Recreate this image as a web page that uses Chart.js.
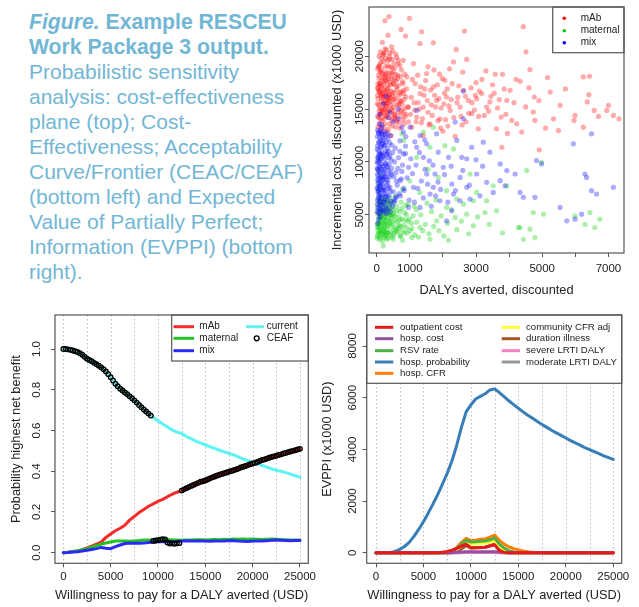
<!DOCTYPE html>
<html>
<head>
<meta charset="utf-8">
<script src="https://cdn.jsdelivr.net/npm/chart.js@4.4.1/dist/chart.umd.min.js"></script>
<style>
html,body{margin:0;padding:0;background:#fff;}
body{width:639px;height:607px;position:relative;overflow:hidden;font-family:"Liberation Sans",Arial,Helvetica,sans-serif;}
.cap{position:absolute;left:29px;top:8.5px;font-size:21px;line-height:25px;color:#72b6d5;white-space:nowrap;}
.cap b{font-size:21.2px;}
.panel{position:absolute;}
.panel canvas{display:block;}
</style>
</head>
<body>
<div class="cap"><b><i>Figure.</i> Example RESCEU<br>Work Package 3 output.</b><br>Probabilistic sensitivity<br>analysis: cost-effectiveness<br>plane (top); Cost-<br>Effectiveness; Acceptability<br>Curve/Frontier (CEAC/CEAF)<br>(bottom left) and Expected<br>Value of Partially Perfect;<br>Information (EVPPI) (bottom<br>right).</div>
<div class="panel" style="left:320px;top:0;"><canvas id="cePlane" width="319" height="300"></canvas></div>
<div class="panel" style="left:0;top:300px;"><canvas id="ceac" width="320" height="307"></canvas></div>
<div class="panel" style="left:320px;top:300px;"><canvas id="evppi" width="319" height="307"></canvas></div>
<script>
// ─── DATA: cost-effectiveness plane (DALYs averted, cost x1000 USD) ───
const mabPts = [
  [370,23740],[250,23360],[990,23580],[735,22530],[1360,22310],[2650,22380],[4430,22790],[4510,20410],[340,21990],[870,21900],
  [1310,21200],[1710,21270],[2400,20640],[2320,19460],[2720,19690],[3300,18610],[3580,18290],[3800,18290],[4210,17820],[4330,17630],
  [4630,18740],[5160,17980],[6240,18040],[6430,18100],[7000,15350],[7320,14080],[7150,14400],[6950,14870],[6570,14870],[6410,16360],
  [6360,15670],[6240,13290],[5990,14400],[5960,13930],[5540,15350],[5340,14080],[5490,12970],[5240,16610],[4910,11140],[4780,13930],
  [4760,16140],[4730,14720],[4380,12820],[4230,13610],[4080,13930],[4030,16770],[3930,15820],[3760,14240],[3620,13130],[3780,11390],
  [3420,15670],[3320,15190],[3170,16460],[3020,15980],[3070,13130],[2870,14560],[2770,15820],[2620,16770],[2520,15190],[2370,12410],
  [2220,14870],[2110,16140],[2060,17720],[1910,14080],[1810,15820],[1710,17090],[1610,13610],[1510,18360],[1410,15190],[1310,16460],
  [1210,14240],[1160,17410],[1110,19300],[1060,13290],[960,15190],[910,18040],[810,16770],[710,15820],[650,19620],[550,14400],
  [500,17410],[450,20890],[400,18990],[300,15510],[250,18040],[200,20260],[150,16460],[120,14560],[100,17410],[80,18990],
  [1250,15600],[1450,16900],[1550,14700],[1650,15400],[1750,16300],[1850,13900],[1950,15100],[2050,16500],[2150,13400],[2250,15900],
  [2450,16100],[2550,14300],[2700,13800],[2850,17000],[2950,14900],[3100,16700],[3250,14400],[3450,16200],[3650,15100],[3850,16900],
  [1350,13700],[1050,16100],[1150,14900],[1550,19000],[1900,18300],[2200,18800],[2600,18500],[3000,17500],[3500,17300],[2000,12900],
  [1400,12500],[4500,15200],[4900,15800],[5700,16900],[6700,14300],[5100,13200],[3950,12700],[4600,17000],
  [60,14200],[90,15100],[120,16300],[150,17200],[70,17900],[180,14800],[210,15600],[240,16800],[40,16000],[100,18600],
  [130,19400],[200,20100],[260,19000],[300,17700],[330,16100],[360,14900],[280,14300],[80,13600],[160,13900],[230,14100],
  [390,15800],[420,17300],[450,18400],[480,16600],[510,15200],[540,14500],[570,16000],[600,17100],[630,18200],[660,15500],
  [700,16500],[740,14800],[780,17600],[820,15900],[860,14300],[900,16900],[50,19000],[110,20400],[170,21300],[250,20700],
  [340,19600],[400,20300],[470,19700],[550,18900],[650,19300],[750,18700],[850,18300],[940,15200],[20,15500],[30,17000],
  [140,15700],[190,16100],[270,15300],[310,15800],[370,16400],[440,15000],[500,14100],[620,14000],[680,13700],[720,15700],
  [800,14000],[960,13800],[380,13600],[580,13300],[120,14500],[220,17600],[290,18500],[350,17900],[530,17800],[460,13900],
  [60,16700],[95,17400],[185,18300],[245,15000],[320,14600],[410,16100],[210,13300],[170,12800],[300,12900],[430,12500],
  [30,14300],[75,14800],[115,14050],[165,14650],[215,14950],[265,14400],[320,14750],[375,14200],[430,14600],[490,14850],
  [560,14250],[640,14700],[720,14350],[800,14750],[880,14500],[55,15400],[135,15050],[195,15450],[255,15800],[305,15250],
  [355,15600],[415,15350],[475,15700],[535,15900],[605,15400],[690,15150],[770,15500],[850,15100],[25,16300],[85,16600],
  [145,16100],[205,16900],[260,16400],[315,16800],[365,16050],[425,16700],[485,16200],[545,16500],[610,16850],[675,16300],
  [745,16650],[815,16450],[885,16150],[45,16950],[110,16750],[175,16500],[230,16200],[290,16550],[345,16950],[395,16350],
  [35,17400],[95,17150],[155,17750],[215,17300],[275,17650],[335,17200],[395,17550],[455,17850],[515,17350],[585,17700],
  [655,17250],[725,18100],[795,17400],[60,18200],[125,18450],[190,17950],[250,18300],[310,18100],[370,18400],[440,18150],
  [500,18550],[570,18250],[640,17900],[30,18800],[90,19200],[150,18700],[210,19500],[270,19800],[330,19100],[390,19700],
  [460,18900],[520,19300],[600,19900],[700,19100],[800,19600],[75,20000],[140,19800],[230,20300],[300,20600],[380,20000],
  [480,20500],[580,20200],[40,13300],[130,13200],[240,13600],[350,13100],[470,13400],[590,13800],[710,13200],[830,13600],
  [1020,14500],[1080,17800],[1130,15600],[1190,13800],[1240,18200],[1290,15000],[1330,17100],[1380,14100],[1430,16300],[1480,17700],
  [1530,15800],[1580,13500],[1630,16800],[1680,14400],[1730,18700],[1780,15200],[1830,17300],[1880,16000],[1930,13200],[1980,17900],
  [2030,15500],[2080,14000],[2130,16900],[2180,15300],[2280,17400],[2330,14200],[2430,15600],[2480,17200],[2580,13500],[2680,16200],
  [2780,14600],[2880,15600],[2980,16300],[3080,14300],[3180,17800],[3380,14800],[3550,16500],[3700,15900],[3900,14500],[4150,15600]
];
const maternalPts = [
  [200,2060],[500,2690],[710,3010],[1060,2850],[1610,2690],[2170,2600],[1310,3800],[1810,4430],[2370,4750],[2720,5060],
  [2920,3960],[3270,5220],[3620,5380],[4330,3800],[4430,2690],[4630,3640],[4780,2850],[4730,5220],[5040,5060],[4980,9970],
  [4530,9180],[4280,3800],[5990,4900],[6290,4110],[6590,3800],[6740,4590],[6440,5220],[3930,7750],[3520,7750],[3020,7120],
  [2820,8860],[2920,6330],[2620,6010],[2320,11230],[2060,11550],[1610,11390],[1410,12820],[1710,13290],[760,12660],[810,12030],
  [1210,10440],[1860,8540],[2110,7280],[910,3800],[600,3490],[3320,6330],[2420,6490],[2110,5700],
  [20,3000],[40,3500],[60,4000],[80,4500],[100,5000],[120,5500],[140,6000],[160,3200],[180,3700],[200,4200],
  [220,4700],[240,5200],[260,5700],[280,3100],[300,3600],[320,4100],[340,4600],[360,5100],[380,5600],[400,6100],
  [420,3400],[440,3900],[460,4400],[480,4900],[500,5400],[540,3300],[580,3800],[620,4300],[660,4800],[700,5300],
  [740,6200],[780,3500],[820,4000],[860,4500],[900,5000],[950,6000],[30,5600],[50,6500],[70,7200],[90,2700],
  [110,3300],[130,4700],[170,5400],[190,6600],[210,2900],[250,3800],[270,4400],[290,6200],[310,2700],[350,3300],
  [390,4200],[430,5000],[470,5900],[510,3100],[560,4500],[600,5800],[640,3400],[680,4000],[720,3000],[760,4600],
  [1000,3500],[1050,4200],[1100,4900],[1150,3100],[1200,5500],[35,8000],[65,9200],[45,10300],[95,7600],[150,8700],
  [25,3800],[55,4300],[85,3400],[115,4100],[145,4900],[175,2500],[205,3500],[235,4000],[265,3300],[330,5300],
  [15,2800],[50,3200],[90,2900],[130,3600],[170,3100],[215,3400],[260,2900],[305,3300],[350,2800],[400,3100],
  [460,2900],[520,3600],[20,4100],[60,3800],[100,4300],[145,3900],[190,4500],[235,4300],[280,4800],[330,3900],
  [375,4400],[425,4700],[490,4100],[550,4900],[30,5100],[70,4800],[110,5300],[155,5000],[200,5600],[245,4800],
  [295,5300],[345,5700],[395,5000],[450,5500],[520,5100],[610,5400],[40,6000],[80,6300],[120,6100],[165,6400],
  [215,6000],[270,6500],[330,6200],[400,6600],[480,6300],[570,6800],[650,3700],[700,4500],[760,5600],[840,3300],
  [880,5900],[940,4400],
  [720,3900],[780,2600],[850,5200],[920,3300],[990,4600],[1070,3700],[1130,5800],[1210,4300],[1260,2900],[1330,5000],
  [1390,3500],[1470,4100],[1520,6100],[1580,3200],[1660,5300],[1720,3900],[1790,6400],[1880,3500],[1950,4900],[2030,3000],
  [2140,4200],[2260,5500],[2420,3600],[2560,4400],[2780,3200],[3050,4800],[3400,4100],[3800,3300],[780,7400],[1000,8200],
  [1300,7100],[1550,9300]
];
const mixPts = [
  [2370,13770],[2570,10440],[2720,10290],[2870,11390],[3220,11870],[3420,10920],[3020,8860],[3320,8070],[3730,8230],[3930,9180],
  [3730,9810],[3880,7750],[4180,8860],[4330,7120],[4430,6650],[4830,10130],[4980,9810],[4780,6650],[5540,5700],[5740,4430],
  [5940,11710],[5990,4590],[6290,8860],[6340,8540],[6490,7280],[6490,12660],[6640,6960],[7150,7600],[6190,5060],[3520,7120],
  [3120,6800],[2820,6490],[2520,6330],[2270,5380],[2110,4430],[1910,6330],[1710,7600],[1510,8860],[1410,10440],[1310,12500],
  [1210,11390],[1010,13290],[810,12820],[650,14080],[400,14720],[1210,14870],[2520,8540],[2270,7910],[2010,9490],[1860,10920],
  [1760,8860],[1610,6960],[1110,7600],[960,9490],[810,10760],[710,8230],[550,6330],[960,5700],[1310,5700],[2420,12030],
  [2720,7600],[2170,10440],[2320,6960],[1510,11710],[1810,12660],[2620,16700],[2620,14080],
  [80,14500],[200,15500],[350,14200],[500,13800],[150,13500],[650,15000],[280,16200],
  [20,6000],[40,7200],[60,8400],[80,9600],[100,10800],[120,12000],[30,13000],[50,5200],[70,6600],[90,7800],
  [110,9000],[130,10200],[150,11400],[170,12600],[190,6200],[210,7400],[230,8600],[250,9800],[270,11000],[290,5600],
  [310,6800],[330,8000],[350,9200],[370,10400],[20,11200],[40,9900],[60,12700],[80,5600],[100,4800],[120,6800],
  [140,8000],[160,9300],[180,10600],[200,11800],[220,5200],[240,6400],[260,7000],[280,8300],[300,9600],[320,10800],
  [340,12200],[380,6000],[400,7600],[420,9000],[440,10200],[460,11600],[480,5800],[500,7200],[520,8600],[540,10000],
  [560,6600],[600,8200],[640,9400],[680,7000],[700,11000],[20,8800],[45,10500],[65,11800],[85,13600],[150,13200],
  [35,7600],[75,10100],[125,8500],[175,7300],[205,9100],[260,12600],[110,5900],[160,5400],[55,4600],[30,4200],
  [25,9300],[50,8000],[95,6200],[140,10700],[190,8300],[230,11500],[60,11000],[105,12900],[15,10000],[75,7000],
  [15,5300],[45,5700],[85,5100],[125,5500],[165,5900],[210,5400],[255,5800],[300,5100],[345,5500],[410,5300],
  [25,6400],[60,6800],[100,6300],[140,6600],[185,6900],[230,6200],[275,6700],[325,6400],[370,6800],[430,6300],
  [15,7500],[55,7300],[95,7700],[135,7400],[175,7900],[220,7600],[265,7300],[310,7800],[360,7500],[410,7200],
  [30,8300],[70,8700],[110,8200],[155,8600],[200,8400],[245,8900],[290,8700],[335,8300],[385,8600],[440,8800],
  [20,9400],[60,9100],[100,9500],[145,9800],[190,9600],[235,9300],[280,9900],[330,9500],[380,9800],[450,9400],
  [35,10400],[75,10700],[115,10300],[160,10900],[205,10500],[250,10300],[295,10700],[345,11000],[400,10600],[480,10900],
  [25,11500],[65,11900],[110,11400],[150,11700],[195,12100],[240,11600],[285,11900],[335,11300],[390,11800],
  [20,12400],[55,12800],[95,12300],[135,12700],[180,12300],[225,12900],[275,12400],[330,12700],[420,12500],
  [580,9000],[620,7800],[660,10400],[560,11300],[520,6200],[600,6700],[740,8400],[780,9700],[820,7500],[870,10800],
  [720,6800],[760,9100],[830,7300],[870,11500],[920,8500],[980,6400],[1030,10300],[1080,8900],[1140,6200],[1190,9700],
  [1240,7500],[1290,10900],[1350,8200],[1410,6600],[1460,9300],[1540,7900],[1590,10100],[1650,5800],[1700,9700],[1780,6800],
  [1850,8100],[1930,7400],[2050,8800],[2150,6200],[2250,9600],[2380,7300],[2600,9200],[2800,7800],[3000,10200],[3200,9600],
  [880,12400],[1150,11900],[1450,12100],[700,12000],[760,13300]
];
const planeXTicks = [0,1000,2000,3000,4000,5000,6000,7000];
const planeXLabelled = [0,1000,3000,5000,7000];
const planeYTicks = [5000,10000,15000,20000];

// ─── DATA: CEAC / CEAF (probability by willingness to pay) ───
const wtp = [0,500,1000,1500,2000,2500,3000,3500,4000,4500,5000,5500,6000,6500,7000,7500,8000,8500,9000,9500,
  10000,10500,11000,11500,12000,12500,13000,13500,14000,14500,15000,15500,16000,16500,17000,17500,18000,18500,19000,19500,
  20000,20500,21000,21500,22000,22500,23000,23500,24000,24500,25000];
const ceacMab = [0,0.002,0.005,0.009,0.015,0.024,0.032,0.042,0.052,0.075,0.092,0.108,0.12,0.135,0.16,0.178,0.197,0.212,0.228,0.24,
  0.252,0.262,0.275,0.287,0.297,0.305,0.317,0.328,0.338,0.348,0.355,0.365,0.374,0.383,0.39,0.398,0.405,0.413,0.422,0.43,
  0.438,0.445,0.455,0.462,0.47,0.476,0.483,0.49,0.497,0.503,0.51];
const ceacMaternal = [0,0.002,0.006,0.01,0.015,0.02,0.027,0.034,0.042,0.048,0.053,0.057,0.058,0.057,0.056,0.058,0.06,0.062,0.063,0.062,
  0.064,0.066,0.065,0.063,0.062,0.061,0.062,0.063,0.064,0.064,0.063,0.064,0.065,0.064,0.066,0.065,0.067,0.066,0.067,0.066,
  0.067,0.066,0.065,0.066,0.067,0.066,0.065,0.064,0.063,0.063,0.062];
const ceacMix = [0,0.001,0.003,0.005,0.008,0.012,0.016,0.02,0.026,0.022,0.02,0.03,0.038,0.045,0.046,0.047,0.046,0.048,0.05,0.052,
  0.054,0.055,0.054,0.053,0.055,0.057,0.059,0.058,0.057,0.058,0.057,0.056,0.058,0.057,0.058,0.06,0.059,0.057,0.056,0.055,
  0.057,0.058,0.057,0.059,0.061,0.062,0.061,0.06,0.059,0.06,0.06];
const ceacCurrent = [1,0.998,0.993,0.985,0.972,0.952,0.94,0.925,0.91,0.89,0.862,0.83,0.805,0.787,0.768,0.748,0.725,0.703,0.683,0.664,
  0.648,0.632,0.617,0.603,0.592,0.585,0.57,0.56,0.548,0.538,0.53,0.52,0.512,0.503,0.495,0.487,0.48,0.47,0.46,0.452,
  0.445,0.437,0.428,0.42,0.412,0.405,0.4,0.393,0.386,0.378,0.37];
const ceafWtp = [0,250,500,750,1000,1250,1500,1750,2000,2250,2500,2750,3000,3250,3500,3750,4000,4250,4500,4750,
  5000,5250,5500,5750,6000,6250,6500,6750,7000,7250,7500,7750,8000,8250,8500,8750,9000,9250,9500,9750,
  10000,10250,10500,10750,11000,11250,11500,11750,12000,12250,12500,12750,13000,13250,13500,13750,14000,14250,14500,14750,
  15000,15250,15500,15750,16000,16250,16500,16750,17000,17250,17500,17750,18000,18250,18500,18750,19000,19250,19500,19750,
  20000,20250,20500,20750,21000,21250,21500,21750,22000,22250,22500,22750,23000,23250,23500,23750,24000,24250,24500,24750,25000];
const ceafProb = [1,1,0.998,0.996,0.993,0.989,0.985,0.979,0.972,0.962,0.952,0.946,0.94,0.932,0.925,0.918,0.91,0.901,0.89,0.876,
  0.862,0.846,0.83,0.817,0.805,0.796,0.787,0.778,0.768,0.758,0.748,0.737,0.725,0.714,0.703,0.693,0.683,0.673,0.058,0.06,
  0.062,0.064,0.066,0.065,0.05,0.045,0.046,0.044,0.046,0.047,0.305,0.311,0.317,0.322,0.328,0.333,0.338,0.343,0.348,0.351,
  0.355,0.36,0.365,0.37,0.374,0.379,0.383,0.387,0.39,0.394,0.398,0.401,0.405,0.409,0.413,0.418,0.422,0.426,0.43,0.434,
  0.438,0.441,0.445,0.45,0.455,0.458,0.462,0.466,0.47,0.473,0.476,0.48,0.483,0.487,0.49,0.494,0.497,0.5,0.503,0.507,0.51];
const wtpTicks = [0,5000,10000,15000,20000,25000];
const wtpGrid = [0,2500,5000,7500,10000,12500,15000,17500,20000,22500,25000];
const probTicks = [0,0.2,0.4,0.6,0.8,1.0];

// ─── DATA: EVPPI (x1000 USD) on the same wtp grid ───
const evOutpatientCost = [0,0,0,0,0,0,0,0,0,0,0,0,0,0,20,50,100,170,250,330,190,190,200,210,260,310,80,10,
  0,0,0,0,0,0,0,0,0,0,0,0,0,0,0,0,0,0,0,0,0,0,0];
const evHospCost = [0,0,0,0,0,0,0,0,0,0,0,0,0,0,0,0,10,20,30,40,40,40,40,40,40,40,30,10,
  0,0,0,0,0,0,0,0,0,0,0,0,0,0,0,0,0,0,0,0,0,0,0];
const evRsvRate = [0,0,0,0,0,0,0,0,0,0,0,0,0,0,0,0,30,160,330,480,410,420,440,450,500,570,330,180,80,30,10,
  0,0,0,0,0,0,0,0,0,0,0,0,0,0,0,0,0,0,0,0];
const evHospProb = [0,0,0,5,50,130,240,400,630,900,1200,1530,1880,2250,2650,3070,3550,4150,4850,5450,
  5720,5950,6050,6150,6300,6340,6200,6040,5880,5730,5590,5450,5320,5200,5080,4960,4850,4740,4640,4540,
  4440,4340,4250,4160,4070,3990,3910,3830,3750,3680,3610];
const evHospCfr = [0,0,0,0,0,0,0,0,0,0,0,0,0,0,0,0,40,200,400,550,470,480,520,530,600,680,480,330,230,160,110,70,40,20,10,
  0,0,0,0,0,0,0,0,0,0,0,0,0,0,0,0];
const evCommunityCfr = [0,0,0,0,0,0,0,0,0,0,0,0,0,0,0,0,20,120,270,400,340,350,360,370,410,460,250,120,40,10,
  0,0,0,0,0,0,0,0,0,0,0,0,0,0,0,0,0,0,0,0,0];
const evDurationIllness = [0,0,0,0,0,0,0,0,0,0,0,0,0,0,0,0,0,60,150,270,180,190,200,210,270,330,120,30,
  0,0,0,0,0,0,0,0,0,0,0,0,0,0,0,0,0,0,0,0,0,0,0];
const evSevereLrti = [0,0,0,0,0,0,0,0,0,0,0,0,0,0,0,0,0,0,10,20,20,20,20,20,20,20,10,
  0,0,0,0,0,0,0,0,0,0,0,0,0,0,0,0,0,0,0,0,0,0,0,0];
const evModerateLrti = [0,0,0,0,0,0,0,0,0,0,0,0,0,0,0,0,0,0,0,10,10,10,10,10,10,10,
  0,0,0,0,0,0,0,0,0,0,0,0,0,0,0,0,0,0,0,0,0,0,0,0,0];
const evppiTicks = [0,2000,4000,6000,8000];

// ─── STYLE ──────────────────────────────────────────────────────────
const FONT = '"Liberation Sans", Arial, Helvetica, sans-serif';
const INK = '#222';
const FRAME = '#555';
const TICK_PX = 11.5, TITLE_PX = 12.8;

const pts = a => a.map(p => ({x: p[0], y: p[1]}));
const xy = (xs, ys) => xs.map((x, i) => ({x, y: ys[i]}));

// base-R look: box, dotted vertical guides, rotated y labels, boxed legend
const rPanel = {
  id: 'rPanel',
  beforeDatasetsDraw(chart, _a, o){
    const {ctx, chartArea: a} = chart;
    if(!o.grid) return;
    const xs = chart.scales.x;
    ctx.save();
    ctx.strokeStyle = '#bdbdbd'; ctx.lineWidth = 1; ctx.setLineDash([1.5, 2.5]);
    o.grid.forEach(v => {
      const px = Math.round(xs.getPixelForValue(v)) + 0.5;
      ctx.beginPath(); ctx.moveTo(px, a.top); ctx.lineTo(px, a.bottom); ctx.stroke();
    });
    ctx.restore();
  },
  afterDatasetsDraw(chart, _a, o){
    const {ctx, chartArea: a} = chart;
    const ys = chart.scales.y;
    ctx.save();
    // y tick labels, parallel to the axis
    ctx.font = TICK_PX + 'px ' + FONT; ctx.fillStyle = INK;
    ctx.textAlign = 'center'; ctx.textBaseline = 'middle';
    ys.ticks.forEach(t => {
      ctx.save();
      ctx.translate(o.yLabelX, ys.getPixelForValue(t.value));
      ctx.rotate(-Math.PI / 2);
      ctx.fillText(o.yFmt ? o.yFmt(t.value) : String(t.value), 0, 0);
      ctx.restore();
    });
    // legend
    const L = o.legend;
    if(L){
      ctx.fillStyle = '#fff';
      ctx.fillRect(L.x1, L.y1, L.x2 - L.x1, L.y2 - L.y1);
      ctx.strokeStyle = FRAME; ctx.lineWidth = 1.2;
      ctx.strokeRect(L.x1, L.y1, L.x2 - L.x1, L.y2 - L.y1);
      ctx.font = L.size + 'px ' + FONT; ctx.textAlign = 'left'; ctx.textBaseline = 'middle';
      L.items.forEach(it => {
        if(it.kind === 'line'){
          ctx.strokeStyle = it.color; ctx.lineWidth = 3; ctx.lineCap = 'butt';
          ctx.beginPath(); ctx.moveTo(it.l1, it.y); ctx.lineTo(it.l2, it.y); ctx.stroke();
        } else if(it.kind === 'dot'){
          ctx.fillStyle = it.color;
          ctx.beginPath(); ctx.arc(it.l1, it.y, 1.8, 0, Math.PI * 2); ctx.fill();
        } else {
          ctx.strokeStyle = '#000'; ctx.lineWidth = 1.4;
          ctx.beginPath(); ctx.arc(it.l1, it.y, 2.4, 0, Math.PI * 2); ctx.stroke();
        }
        ctx.fillStyle = INK;
        ctx.fillText(it.text, it.tx, it.y);
      });
    }
    // plot box
    ctx.strokeStyle = FRAME; ctx.lineWidth = 1.2;
    ctx.strokeRect(a.left, a.top, a.right - a.left, a.bottom - a.top);
    ctx.restore();
  }
};

function xAxis(min, max, ticks, cb, title, tickPad, titlePad, h){
  return {
    type: 'linear', min, max,
    afterBuildTicks: s => { s.ticks = ticks.map(v => ({value: v})); },
    afterFit: s => { s.height = h; },
    grid: {drawOnChartArea: false, drawTicks: true, tickLength: 4, tickColor: FRAME, color: FRAME},
    border: {display: false},
    ticks: {autoSkip: false, maxRotation: 0, minRotation: 0, padding: tickPad, color: INK,
      font: {family: FONT, size: TICK_PX}, callback: cb},
    title: {display: true, text: title, color: INK, font: {family: FONT, size: TITLE_PX}, padding: {top: 0, bottom: titlePad}}
  };
}
function yAxis(min, max, ticks, title, titlePad, w){
  return {
    type: 'linear', min, max,
    afterBuildTicks: s => { s.ticks = ticks.map(v => ({value: v})); },
    afterFit: s => { s.width = w; },
    grid: {drawOnChartArea: false, drawTicks: true, tickLength: 4, tickColor: FRAME, color: FRAME},
    border: {display: false},
    ticks: {display: false},
    title: {display: true, text: title, color: INK, font: {family: FONT, size: TITLE_PX}, padding: {top: titlePad, bottom: 0}}
  };
}
const common = {
  responsive: false, animation: false, events: [],
  plugins: {legend: {display: false}, tooltip: {enabled: false}}
};
const line = (label, data, color) => ({label, data, borderColor: color, backgroundColor: color, borderWidth: 3,
  pointRadius: 0, tension: 0, borderCapStyle: 'round', borderJoinStyle: 'round', fill: false});

// ─── CHART: cost-effectiveness plane ────────────────────────────────
const dotSet = (label, data, rgb) => ({label, data: pts(data), pointRadius: 2.6, pointBorderWidth: 0,
  backgroundColor: 'rgba(' + rgb + ',0.33)', borderColor: 'rgba(' + rgb + ',0)'});
new Chart(document.getElementById('cePlane'), {
  type: 'scatter',
  data: {datasets: [
    dotSet('mix', mixPts, '0,0,255'),
    dotSet('maternal', maternalPts, '0,205,0'),
    dotSet('mAb', mabPts, '255,0,0')
  ]},
  options: {...common,
    layout: {padding: {top: 7, right: 15, left: 0, bottom: 0}},
    scales: {
      x: xAxis(-232, 7470, planeXTicks, v => planeXLabelled.includes(v) ? String(v) : '',
        'DALYs averted, discounted', 5, 2.3, 47),
      y: yAxis(1390, 24650, planeYTicks, 'Incremental cost, discounted (x1000 USD)', 9.6, 49)
    },
    plugins: {...common.plugins, rPanel: {
      yLabelX: 40,
      legend: {x1: 232.7, y1: 7, x2: 304, y2: 52.7, size: 10, items: [
        {kind: 'dot', color: '#ff0000', l1: 244.3, tx: 260.7, y: 18.3, text: 'mAb'},
        {kind: 'dot', color: '#00cd00', l1: 244.3, tx: 260.7, y: 30.7, text: 'maternal'},
        {kind: 'dot', color: '#0000ff', l1: 244.3, tx: 260.7, y: 42.7, text: 'mix'}
      ]}
    }}
  },
  plugins: [rPanel]
});

// ─── CHART: CEAC / CEAF ─────────────────────────────────────────────
new Chart(document.getElementById('ceac'), {
  type: 'line',
  data: {datasets: [
    {label: 'CEAF', data: xy(ceafWtp, ceafProb), showLine: false, pointRadius: 2.3, pointBorderWidth: 1.3,
      pointBorderColor: '#000', pointBackgroundColor: 'rgba(0,0,0,0)', borderColor: '#000'},
    line('current', xy(wtp, ceacCurrent), '#5ff4f4'),
    line('mix', xy(wtp, ceacMix), '#2b2bf5'),
    line('maternal', xy(wtp, ceacMaternal), '#22c322'),
    line('mAb', xy(wtp, ceacMab), '#f52a2a')
  ]},
  options: {...common,
    layout: {padding: {top: 15, right: 11.7, left: 0, bottom: 0}},
    scales: {
      x: xAxis(-880, 25880, wtpTicks, v => String(v), 'Willingness to pay for a DALY averted (USD)', 2.8, 4.3, 43.7),
      y: yAxis(-0.052, 1.167, probTicks, 'Probability highest net benefit', 9, 55)
    },
    plugins: {...common.plugins, rPanel: {
      grid: wtpGrid, yLabelX: 37.3, yFmt: v => v.toFixed(1),
      legend: {x1: 171.7, y1: 15, x2: 308.3, y2: 61, size: 10, items: [
        {kind: 'line', color: '#f52a2a', l1: 173.5, l2: 194, tx: 199.3, y: 26.7, text: 'mAb'},
        {kind: 'line', color: '#22c322', l1: 173.5, l2: 194, tx: 199.3, y: 38.3, text: 'maternal'},
        {kind: 'line', color: '#2b2bf5', l1: 173.5, l2: 194, tx: 199.3, y: 50.7, text: 'mix'},
        {kind: 'line', color: '#5ff4f4', l1: 246, l2: 264, tx: 266.7, y: 26.7, text: 'current'},
        {kind: 'ring', l1: 256.7, tx: 266.7, y: 38.3, text: 'CEAF'}
      ]}
    }}
  },
  plugins: [rPanel]
});

// ─── CHART: EVPPI ───────────────────────────────────────────────────
const evSeries = [
  ['outpatient cost', evOutpatientCost, '#e41a1c'],
  ['hosp. cost', evHospCost, '#984ea3'],
  ['RSV rate', evRsvRate, '#4daf4a'],
  ['hosp. probability', evHospProb, '#377eb8'],
  ['hosp. CFR', evHospCfr, '#ff7f00'],
  ['community CFR adj', evCommunityCfr, '#ffff33'],
  ['duration illness', evDurationIllness, '#a65628'],
  ['severe LRTI DALY', evSevereLrti, '#f781bf'],
  ['moderate LRTI DALY', evModerateLrti, '#999999']
];
const rowY = [27.3, 38.7, 50.7, 62, 73.3];
new Chart(document.getElementById('evppi'), {
  type: 'line',
  data: {datasets: evSeries.map(s => line(s[0], xy(wtp, s[1]), s[2]))},
  options: {...common,
    layout: {padding: {top: 15, right: 17.3, left: 0, bottom: 0}},
    scales: {
      x: xAxis(-980, 25890, wtpTicks, v => String(v), 'Willingness to pay for a DALY averted (USD)', 2.8, 3.6, 43.7),
      y: yAxis(-410, 9200, evppiTicks, 'EVPPI (x1000 USD)', 0, 46.7)
    },
    plugins: {...common.plugins, rPanel: {
      grid: wtpGrid, yLabelX: 33.3,
      legend: {x1: 46.7, y1: 15, x2: 301.7, y2: 83.3, size: 9.6,
        items: evSeries.map((s, i) => i < 5
          ? {kind: 'line', color: s[2], l1: 55, l2: 73.3, tx: 80, y: rowY[i], text: s[0]}
          : {kind: 'line', color: s[2], l1: 181.7, l2: 200, tx: 206, y: rowY[i - 5], text: s[0]})}
    }}
  },
  plugins: [rPanel]
});
</script>
</body>
</html>
